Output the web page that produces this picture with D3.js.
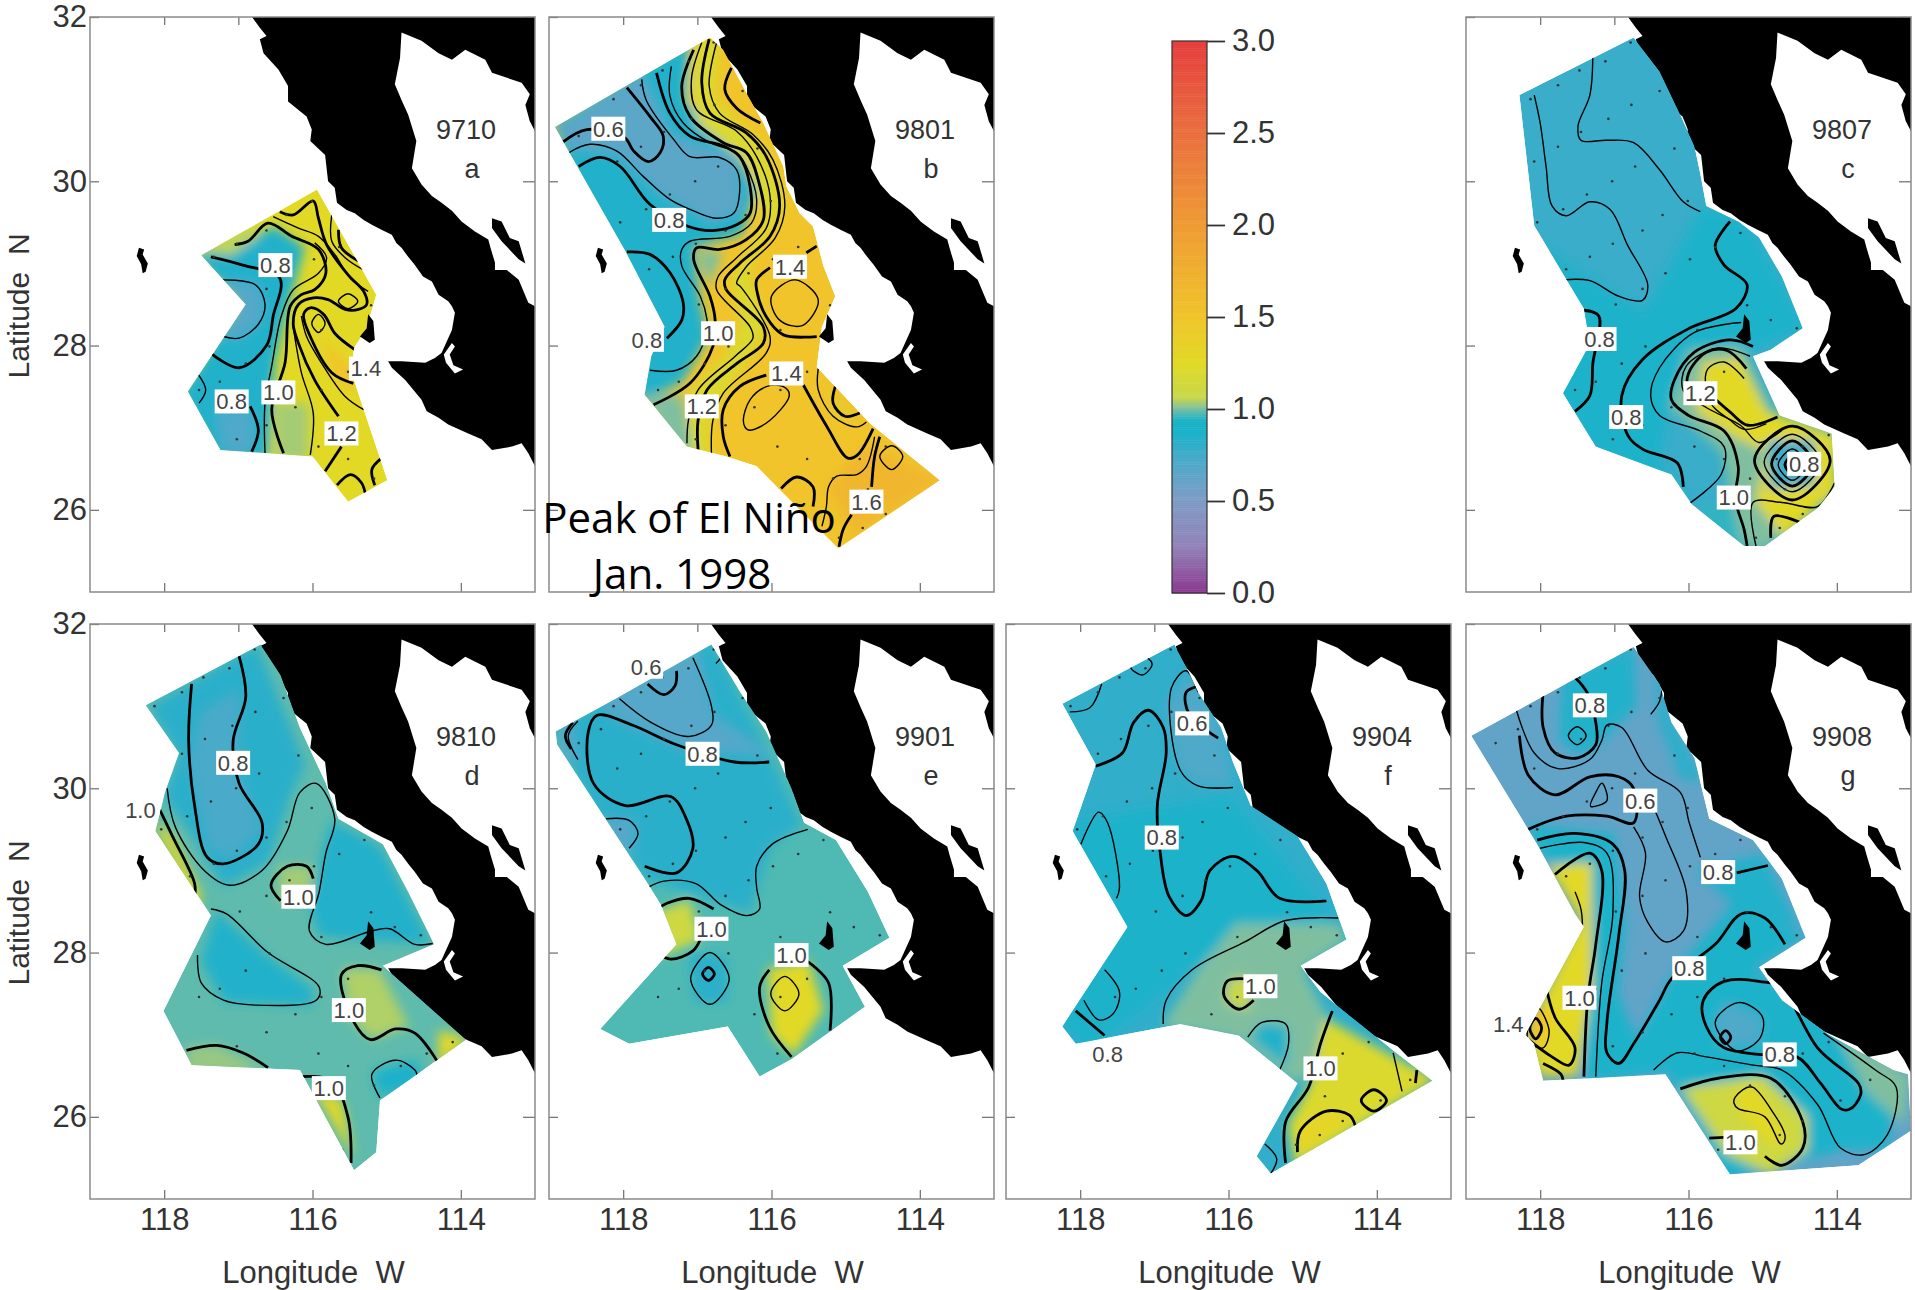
<!DOCTYPE html>
<html>
<head>
<meta charset="utf-8">
<script src="https://cdn.jsdelivr.net/npm/d3@7/dist/d3.min.js"></script>
<style>
	html, body { margin: 0; background: #fff; }
	text { font-family: "Liberation Sans", sans-serif; }
</style>
</head>
<body>
<script>

// Colour bar
// ==============================================

var barTicks = [0, 0.5, 1, 1.5, 2, 2.5, 3];
var colorValues = [0, 0.25, 0.5, 0.7, 0.88, 0.94, 1.0, 1.06, 1.25, 1.5, 2, 2.5, 3];
var colorNames = ["#8c3a90", "#9283b8", "#7f9cc6", "#4fa9c9", "#17b2ca", "#1fb4c6", "#7fbfa0", "#c8d84a", "#e2d925", "#f0c42a", "#ef9a34", "#ea6f3f", "#e63e3e"];

// Land, in degrees (lon W, lat N)
// ==============================================

var coast = [[116.84,32.1],[116.84,32.03],[116.71,31.87],[116.62,31.77],[116.71,31.73],[116.66,31.56],[116.46,31.36],[116.33,31.16],[116.33,30.97],[116.08,30.79],[116.01,30.63],[116.03,30.49],[115.83,30.32],[115.79,30.0],[115.70,29.92],[115.67,29.74],[115.54,29.65],[115.43,29.61],[115.31,29.53],[115.20,29.47],[115.07,29.41],[114.93,29.35],[114.87,29.25],[114.80,29.19],[114.71,29.08],[114.62,28.98],[114.51,28.84],[114.39,28.78],[114.3,28.62],[114.17,28.54],[114.12,28.48],[114.08,28.40],[114.12,28.19],[114.26,27.91],[114.35,27.85],[114.48,27.79],[114.80,27.81],[114.98,27.81],[114.93,27.73],[114.75,27.58],[114.53,27.34],[114.46,27.2],[114.3,27.12],[114.17,27.04],[113.90,26.93],[113.72,26.86],[113.58,26.73],[113.31,26.77],[113.18,26.81],[113.09,26.69],[113.0,26.53],[112.8,26.4],[112.8,28.48],[113.0,28.48],[113.09,28.52],[113.22,28.80],[113.38,28.92],[113.54,28.92],[113.54,29.01],[113.6,29.19],[113.63,29.29],[113.81,29.39],[113.99,29.51],[114.12,29.64],[114.26,29.74],[114.39,29.82],[114.53,29.96],[114.66,30.16],[114.60,30.49],[114.71,30.81],[114.80,30.99],[114.89,31.18],[114.82,31.50],[114.80,31.81],[114.53,31.71],[114.30,31.56],[114.12,31.48],[113.94,31.60],[113.67,31.48],[113.58,31.32],[113.18,31.20],[113.07,31.06],[113.13,30.93],[113.07,30.73],[113.0,30.61],[112.8,30.5],[112.8,32.1]];
var islandGuarda = [[113.58,29.55],[113.45,29.51],[113.34,29.31],[113.22,29.27],[113.13,29.0],[113.22,29.05],[113.45,29.27],[113.58,29.43]];
var islandCedros = [[115.25,28.38],[115.18,28.30],[115.16,28.07],[115.23,28.03],[115.36,28.11],[115.27,28.21]];
var islandGuadalupe = [[118.34,29.19],[118.27,29.17],[118.29,29.11],[118.22,29.0],[118.25,28.9],[118.29,28.88],[118.31,28.99],[118.37,29.09]];
var inletOjo = [[114.12,28.03],[114.08,27.99],[114.15,27.89],[114.1,27.76],[113.97,27.71],[114.08,27.66],[114.2,27.79],[114.23,27.89]];

// Station grid
// ==============================================

var stations = [[116.78,31.69],[117.12,31.46],[117.47,31.35],[117.76,31.17],[118.13,31.0],[116.39,31.1],[116.77,30.93],[117.08,30.76],[117.45,30.6],[117.76,30.42],[118.08,30.24],[116.19,30.4],[116.72,30.18],[117.03,30.0],[117.37,29.84],[117.69,29.66],[118.04,29.5],[116.01,29.76],[116.35,29.59],[116.62,29.4],[117.02,29.24],[117.33,29.08],[117.65,28.93],[115.3,29.37],[115.64,29.2],[115.98,29.05],[116.31,28.88],[116.62,28.69],[116.98,28.5],[114.89,28.31],[114.54,28.21],[115.21,28.49],[115.88,28.19],[116.58,27.99],[116.9,27.78],[117.25,27.56],[117.53,27.46],[115.52,27.68],[115.88,27.46],[116.23,27.25],[116.62,27.03],[117.02,26.86],[114.11,26.91],[114.46,26.77],[114.81,26.62],[115.17,26.38],[115.52,26.62],[115.92,26.77],[114.46,25.95],[114.77,25.78],[115.09,25.66],[113.55,26.45],[113.95,26.2],[114.7,26.25],[115.6,25.6],[118.6,30.55],[118.3,30.72]];

// Panel a, 9710
// ==============================================

var surveyA = [[115.94,29.90],[115.14,28.62],[115.27,28.21],[115.44,27.97],[115.48,27.68],[114.99,26.36],[115.52,26.10],[116.0,26.65],[117.24,26.73],[117.68,27.44],[116.90,28.50],[117.50,29.10],[116.64,29.54]];
var baseA = 1.25;
var patchesA = [
	[0.85, [[117.6,29.1],[116.5,29.45],[116.1,29.2],[116.35,28.4],[116.5,27.8],[116.6,26.6],[117.3,26.6],[117.8,27.4],[117.0,28.5]]],
	[0.68, [[117.24,28.8],[116.77,28.74],[116.64,28.5],[116.73,28.26],[116.99,28.09],[117.2,28.11],[117.0,28.5]]],
	[0.7, [[117.3,27.2],[116.8,27.2],[116.8,26.7],[117.2,26.7]]],
	[1.03, [[116.5,27.3],[116.05,27.3],[116.05,26.6],[116.5,26.6]]],
	[1.5, [[115.9,28.1],[115.4,27.7],[115.4,27.4],[115.7,27.6]]],
	[1.05, [[117.5,29.15],[116.9,29.45],[116.7,29.35],[117.1,29.1]]]
];
var contoursA = [
	[1.2, [[116.44,29.63],[116.26,29.59],[115.99,29.76],[115.92,29.55],[115.81,29.23],[115.52,28.86],[115.31,28.66],[115.27,28.50],[115.38,28.44],[115.56,28.44],[115.79,28.56],[115.99,28.58],[116.19,28.50],[116.26,28.27],[116.19,28.03],[115.97,27.58],[115.65,27.14]]],
	[1.4, [[115.65,29.41],[115.61,29.19],[115.38,29.03]]],
	[1.3, [[115.74,29.59],[115.74,29.27],[115.56,29.07],[115.31,28.92]]],
	[0.8, [[117.37,29.08],[116.94,28.98],[116.44,28.82],[116.53,28.36],[116.62,28.0],[116.99,27.73],[117.36,27.90]]],
	[0.7, [[117.24,28.80],[116.77,28.74],[116.64,28.50],[116.73,28.26],[116.99,28.09],[117.20,28.11]]],
	[0.7, [[117.55,27.66],[117.44,27.46],[117.53,27.30]]],
	[0.8, [[116.84,27.26],[116.73,26.97],[116.82,26.71]]],
	[0.9, [[116.64,26.69],[116.64,27.30],[116.55,27.75],[116.42,28.36],[116.26,28.68],[115.92,28.88],[115.81,29.07],[115.97,29.25]]],
	[1.0, [[116.39,26.69],[116.55,27.22],[116.37,27.79],[116.30,28.48],[116.15,28.62],[115.97,28.68],[115.82,28.88],[115.92,29.17],[116.28,29.33],[116.6,29.49],[116.87,29.27],[117.05,29.23]]],
	[1.1, [[116.03,26.67],[115.99,27.18],[116.15,27.67],[116.26,28.23]]],
	[1.4, [[115.43,27.95],[115.70,28.15],[115.85,28.38],[116.03,28.46],[116.12,28.38],[116.03,28.11],[115.74,27.67],[115.45,27.54]]],
	[1.3, [[115.31,27.22],[115.56,27.38],[115.88,27.79],[116.08,28.11],[116.15,28.36]]],
	[1.2, [[115.83,26.47],[115.61,26.77]]],
	[1.2, [[115.67,26.30],[115.49,26.43],[115.34,26.33],[115.28,26.16]]],
	[1.2, [[115.16,26.30],[115.2,26.49],[115.08,26.62]]],
	[1.1, [[116.53,29.57],[116.19,29.43],[115.92,29.33],[115.7,29.11],[115.49,28.82],[115.25,28.66]]]
];
var ringsA = [
	[1.5, [[115.92,28.38],[115.83,28.27],[115.92,28.16],[116.01,28.27]]],
	[1.1, [[115.52,28.63],[115.39,28.54],[115.52,28.45],[115.65,28.54]]]
];
var labelsA = [["0.8",116.50,28.98],["0.8",117.09,27.32],["1.0",116.46,27.43],["1.4",115.28,27.72],["1.2",115.61,26.93]];

// Panel b, 9801
// ==============================================

var surveyB = [[118.92,30.66],[116.83,31.75],[116.65,31.60],[116.34,31.08],[116.11,30.71],[115.84,30.18],[115.80,29.94],[115.62,29.61],[115.44,29.45],[115.30,28.97],[115.14,28.60],[115.32,28.23],[115.39,27.74],[114.67,27.05],[113.73,26.36],[115.10,25.53],[115.93,26.28],[116.20,26.53],[116.61,26.65],[117.14,26.77],[117.71,27.40],[117.62,27.87],[117.44,28.23],[117.97,29.15]];
var baseB = 1.5;
var patchesB = [
	[0.85, [[118.95,30.7],[117.1,31.75],[117.15,30.95],[116.55,30.5],[116.2,29.9],[116.4,29.35],[117.05,29.2],[116.95,28.5],[116.85,28.1],[117.2,27.55],[117.8,27.3],[118.4,29.3]]],
	[0.65, [[118.9,30.65],[117.75,31.3],[117.35,30.55],[116.5,30.3],[116.4,29.65],[116.8,29.5],[117.5,29.85],[118.1,30.35],[118.7,30.4]]],
	[1.2, [[117.0,31.75],[116.7,31.75],[116.75,31],[116.0,30.35],[115.8,29.7],[116.3,28.95],[116.05,28.2],[116.6,27.45],[116.85,27.0],[116.8,26.6],[117.1,26.7],[117.1,27.45],[116.6,27.9],[116.4,28.3],[116.55,28.8],[116.1,29.5],[116.3,30.2],[117.0,30.7],[117.1,31.2]]],
	[1.0, [[117.75,27.4],[117.2,27.4],[117.05,26.7],[117.3,26.7]]],
	[1.0, [[117.0,29.15],[116.65,29.15],[116.85,28.7]]],
	[1.15, [[115.2,27.5],[115.15,27.2],[114.8,27.05],[115.05,27.2]]],
	[1.65, [[114.7,26.8],[113.7,26.35],[114.9,25.7],[115.25,26.3]]]
];
var contoursB = [
	[0.6, [[118.81,30.48],[118.49,30.63],[117.98,30.53],[117.86,30.37],[117.66,30.24],[117.50,30.35],[117.46,30.55],[117.64,30.79],[117.95,31.14]]],
	[0.7, [[118.73,30.35],[118.45,30.45],[118.09,30.37],[117.73,30.06],[117.37,29.78],[117.05,29.64],[116.74,29.55],[116.51,29.61],[116.43,29.86],[116.47,30.14],[116.70,30.29],[117.10,30.30],[117.32,30.51],[117.69,30.99],[117.75,31.24]]],
	[0.8, [[118.60,30.18],[118.31,30.29],[118.04,30.18],[117.64,29.72],[117.12,29.45],[116.79,29.40],[116.47,29.47],[116.29,29.61],[116.29,29.94],[116.43,30.30],[116.65,30.43],[117.10,30.55],[117.37,30.83],[117.55,31.32]]],
	[0.8, [[117.95,29.14],[117.64,29.11],[117.37,28.89],[117.19,28.52],[117.21,28.31],[117.41,28.09]]],
	[0.9, [[117.35,31.40],[117.37,31.04],[117.19,30.71],[116.83,30.47],[116.47,30.35],[116.34,30.18],[116.2,29.78],[116.27,29.49],[116.56,29.33],[117.10,29.27],[117.21,29.17],[117.21,28.97],[116.96,28.6],[116.87,28.32],[116.87,28.19],[117.01,27.87],[117.28,27.70],[117.64,27.70]]],
	[1.0, [[117.05,31.60],[117.21,31.16],[117.10,30.79],[116.65,30.47],[116.34,30.35],[116.18,30.02],[116.11,29.53],[116.34,29.29],[116.70,29.17],[117.01,29.19],[117.05,29.05],[116.83,28.60],[116.76,28.31],[116.79,27.99],[117.10,27.54],[117.59,27.28]]],
	[1.1, [[116.94,31.69],[117.08,31.24],[117.01,30.87],[116.47,30.61],[116.20,30.30],[116.02,29.82],[116.07,29.43],[116.47,29.07],[116.72,28.84],[116.74,28.68],[116.29,28.23],[116.25,28.09],[116.49,27.87],[116.99,27.46],[117.12,27.09],[117.14,26.81]]],
	[1.2, [[116.84,31.73],[116.94,31.20],[116.83,30.83],[116.34,30.59],[116.07,30.30],[115.89,29.70],[116.02,29.33],[116.43,29.0],[116.63,28.80],[116.61,28.68],[116.11,28.23],[116.11,28.03],[116.47,27.78],[116.87,27.46],[116.99,27.09],[116.99,26.73]]],
	[1.3, [[116.74,31.69],[116.84,31.16],[116.70,30.83],[116.25,30.57],[115.98,30.26],[115.82,29.70],[115.95,29.31],[116.34,28.96],[116.47,28.76],[116.42,28.72],[116.02,28.11],[116.07,27.91],[116.65,27.42],[116.79,27.09],[116.81,26.69]]],
	[1.4, [[116.54,31.38],[116.63,31.12],[116.47,30.89],[116.15,30.71]]],
	[1.4, [[115.39,29.21],[115.53,29.13]]],
	[1.4, [[116.02,28.95],[116.20,28.80],[116.2,28.68],[116.07,28.35],[115.84,28.13],[115.39,28.11]]],
	[1.4, [[116.07,27.64],[116.43,27.50],[116.65,27.22],[116.65,26.89],[116.56,26.65]]],
	[1.4, [[115.57,27.52],[115.25,27.01],[114.97,26.63],[114.84,26.67],[114.63,26.99]]],
	[1.3, [[115.37,27.72],[115.37,27.46],[115.17,27.14],[114.85,27.01],[114.72,27.07]]],
	[1.2, [[115.14,27.50],[115.17,27.30],[115.01,27.14],[114.81,27.18]]],
	[1.5, [[114.61,26.89],[114.72,26.53],[114.85,26.43],[115.12,26.41],[115.23,26.28],[115.26,26.04],[115.32,25.80]]],
	[1.6, [[114.54,26.89],[114.61,26.65],[114.65,26.28]]],
	[1.6, [[115.87,26.26],[115.66,26.40],[115.44,26.28],[115.44,26.04]]],
	[1.6, [[114.92,25.94],[115.03,25.77],[115.09,25.55]]]
];
var ringsB = [
	[1.5, [[115.68,28.80],[115.37,28.56],[115.57,28.25],[115.89,28.31],[116.0,28.60]]],
	[1.5, [[115.84,27.50],[115.77,27.36],[116.02,27.09],[116.29,26.97],[116.38,27.09],[116.29,27.34],[116.07,27.50]]],
	[1.7, [[114.38,26.78],[114.23,26.65],[114.38,26.49],[114.54,26.65]]]
];
var labelsB = [["0.6",118.20,30.64],["0.8",117.38,29.53],["1.4",115.75,28.96],["0.8",117.68,28.07],["1.0",116.72,28.15],["1.4",115.80,27.66],["1.2",116.94,27.26],["1.6",114.72,26.10]];

// Panel c, 9807
// ==============================================

var surveyC = [[116.74,31.75],[116.39,31.34],[116.11,30.81],[115.92,30.43],[115.84,30.09],[115.76,29.70],[115.33,29.51],[115.05,29.32],[114.74,28.84],[114.46,28.21],[114.89,27.95],[115.13,27.87],[114.77,27.15],[114.07,26.93],[114.03,26.28],[114.26,26.02],[114.97,25.56],[115.25,25.56],[115.96,26.07],[116.23,26.43],[117.25,26.77],[117.69,27.42],[117.33,28.02],[117.41,28.45],[118.08,29.46],[118.28,31.05]];
var baseC = 0.77;
var patchesC = [
	[0.87, [[118,29.2],[116.6,28.4],[115.8,29.7],[115.2,29.5],[114.4,28.2],[115.3,27.9],[116.1,27.9],[116.4,26.6],[116,26.1],[117.3,26.7],[117.9,27.4]]],
	[1.0, [[116.0,27.95],[115.3,28.0],[114.8,27.1],[114,26.95],[114,26.2],[115,25.5],[115.3,25.6],[115.55,26.7],[116.25,27.25]]],
	[1.25, [[115.8,27.8],[115.3,27.85],[114.95,27.2],[114.4,27.05],[114.0,26.9],[114.0,26.25],[114.7,25.65],[115.1,26.1],[114.95,26.7],[115.4,26.9],[115.9,27.2]]],
	[0.75, [[114.95,26.85],[114.3,26.85],[114.3,26.3],[114.9,26.25]]],
	[0.95, [[115.9,26.05],[115.4,26.0],[115.3,25.5]]]
];
var contoursC = [
	[0.7, [[118.08,31.05],[118.0,30.71],[117.92,30.18],[117.84,29.70],[117.65,29.58],[117.33,29.75],[117.06,29.66],[116.82,29.22],[116.55,28.74],[116.62,28.55],[116.94,28.60],[117.33,28.79],[117.69,28.80]]],
	[0.7, [[117.29,31.53],[117.33,31.05],[117.49,30.67],[117.45,30.50],[117.10,30.50],[116.74,30.47],[116.39,30.14],[116.07,29.75],[115.84,29.63]]],
	[0.8, [[115.44,29.51],[115.64,29.22],[115.52,28.98],[115.21,28.74],[115.36,28.45],[115.99,28.21],[116.62,27.83],[116.90,27.39],[116.82,26.91],[116.62,26.74],[116.15,26.57],[116.07,26.28]]],
	[0.8, [[117.41,28.43],[117.21,28.36],[117.29,27.78],[117.33,27.39],[117.53,27.20]]],
	[0.9, [[115.29,28.28],[115.92,28.16],[116.39,27.73],[116.51,27.39],[116.39,27.15],[115.84,26.96],[115.52,26.77],[115.56,26.43],[116.0,26.07]]],
	[1.0, [[115.13,27.99],[115.44,28.07],[115.92,27.92],[116.19,27.58],[116.23,27.34],[116.0,27.15],[115.52,26.96],[115.33,26.53],[115.37,26.14],[115.25,25.76],[115.21,25.56]]],
	[1.1, [[115.17,27.87],[115.6,27.97],[116.03,27.75],[116.07,27.45],[115.75,27.24],[115.3,27.03],[115.05,26.82],[114.74,26.97]]],
	[1.2, [[115.22,27.72],[115.48,27.94],[115.76,27.92],[116.0,27.66],[116.0,27.5],[115.75,27.42],[115.45,27.2],[115.2,27.03],[114.8,27.13]]],
	[1.3, [[115.25,27.6],[115.52,27.8],[115.75,27.7],[115.7,27.3],[115.45,27.1],[115.25,26.98],[114.95,27.05]]],
	[1.2, [[114.89,25.66],[114.85,25.92],[114.5,25.85]]],
	[1.1, [[115.09,25.56],[115.13,26.09],[114.74,26.09],[114.26,26.04],[114.03,26.33]]]
];
var ringsC = [
	[1.0, [[114.60,27.02],[114.09,26.6],[114.60,26.12],[115.11,26.6]]],
	[0.9, [[114.60,26.92],[114.22,26.58],[114.60,26.22],[114.98,26.58]]],
	[0.8, [[114.60,26.84],[114.32,26.56],[114.60,26.29],[114.88,26.56]]],
	[0.7, [[114.60,26.74],[114.41,26.55],[114.60,26.36],[114.79,26.55]]],
	[0.6, [[114.60,26.66],[114.5,26.55],[114.60,26.44],[114.7,26.55]]]
];
var labelsC = [["0.8",117.2,28.08],["0.8",116.84,27.13],["1.2",115.84,27.42],["1.0",115.39,26.15],["0.8",114.44,26.56]];

// Panel d, 9810
// ==============================================

var surveyD = [[118.25,31.01],[117.80,30.43],[117.99,29.95],[118.12,29.48],[117.37,28.45],[118.01,27.29],[117.63,26.63],[116.17,26.57],[115.44,25.35],[115.14,25.57],[115.09,26.20],[113.93,26.94],[115.05,27.84],[114.36,28.10],[114.71,28.74],[115.05,29.32],[115.65,29.63],[115.82,30.06],[116.17,30.74],[116.43,31.38],[116.70,31.75]];
var baseD = 0.98;
var patchesD = [
	[0.82, [[118.2,31],[116.75,31.75],[116.1,30.3],[116.3,29.9],[116.6,29.1],[117.2,28.8],[117.6,29.4],[118,29.9],[117.8,30.4]]],
	[0.72, [[117.5,30.9],[117,31.2],[117,30.2],[116.7,29.5],[117.1,29.15],[117.4,29.3],[117.65,30.3]]],
	[0.84, [[115.75,29.6],[115.1,29.3],[114.4,28.1],[115.9,28.2],[116.05,28.6]]],
	[1.03, [[116.45,29.05],[116,29.05],[116,28.7],[116.45,28.6]]],
	[0.85, [[117.3,28.5],[116.6,27.95],[116,27.55],[116,27.35],[117.2,27.4],[117.5,27.9]]],
	[1.25, [[118.15,29.6],[117.9,29.45],[117.5,28.7],[117.55,28.5]]],
	[1.04, [[115.6,27.8],[115.1,27.8],[114.7,27.1],[115.2,26.95],[115.5,27.2]]],
	[1.25, [[114.3,27.05],[113.9,26.95],[114.3,26.6]]],
	[0.86, [[115.1,26.25],[115.2,26.55],[114.6,26.7],[114.5,26.4]]],
	[1.02, [[117.7,26.85],[117.3,26.88],[116.6,26.55],[117.7,26.5]]],
	[1.25, [[116,26.35],[115.6,26.2],[115.45,25.5]]]
];
var contoursD = [
	[0.8, [[116.99,31.61],[116.90,31.11],[117.07,30.58],[116.99,30.06],[116.68,29.58],[116.73,29.32],[117.20,29.08],[117.42,29.16],[117.59,29.79],[117.67,30.58],[117.63,31.27]]],
	[0.9, [[117.96,30.0],[117.85,29.53],[117.46,29.0],[117.12,28.82],[116.68,29.0],[116.34,29.48],[116.17,29.95],[115.95,30.06],[115.70,29.63],[115.82,29.21],[115.91,28.74],[116.04,28.26],[115.82,28.10],[115.22,28.26],[114.96,28.29],[114.62,28.10],[114.38,28.11]]],
	[1.0, [[118.06,29.74],[117.89,29.42],[117.59,28.84],[117.59,28.66]]],
	[1.0, [[116.43,28.63],[116.56,28.82],[116.34,29.05],[116.08,29.05],[115.99,28.90]]],
	[0.9, [[117.37,28.53],[117.16,28.47],[116.6,28.0],[115.91,27.58],[115.95,27.42],[116.77,27.36],[117.20,27.42],[117.5,27.63],[117.55,27.97]]],
	[1.0, [[115.07,27.79],[115.39,27.84],[115.61,27.73],[115.44,27.15],[115.22,26.94],[114.88,27.07],[114.62,27.02],[114.32,26.68]]],
	[1.0, [[117.70,26.81],[117.29,26.87],[116.94,26.78],[116.6,26.60]]],
	[0.9, [[115.09,26.23],[115.2,26.52],[114.88,26.69],[114.62,26.57],[114.58,26.47]]],
	[1.0, [[116.17,26.49],[115.74,26.44],[115.52,25.99],[115.48,25.44]]]
];
var ringsD = [];
var labelsD = [["0.8",117.07,30.31],["1.0",118.32,29.73],["1.0",116.19,28.68],["1.0",115.51,27.30],["1.0",115.78,26.35]];

// Panel e, 9901
// ==============================================

var surveyE = [[116.81,31.75],[116.42,31.17],[116.07,30.69],[115.73,30.0],[115.56,29.58],[115.13,29.37],[114.70,28.74],[114.41,28.18],[115.04,27.84],[114.74,27.34],[115.73,26.70],[116.16,26.49],[116.59,27.10],[117.92,26.89],[118.31,27.07],[117.28,28.10],[117.49,28.58],[117.71,28.90],[118.89,30.53],[118.91,30.69],[118.10,31.09]];
var baseE = 0.97;
var patchesE = [
	[0.82, [[118.95,30.7],[116.8,31.8],[116,30.35],[115.6,29.55],[116,29.3],[116.3,28.5],[117.7,28.9],[118.3,29.6]]],
	[0.68, [[118.3,31.1],[117,31.7],[116.8,30.9],[116,30.4],[117.2,30.5],[118.2,30.9]]],
	[0.68, [[118.3,29.65],[117.85,29.6],[117.85,29.25],[118.1,29.2]]],
	[0.68, [[118.9,30.8],[118.7,30.8],[118.6,30.3],[118.8,30.4]]],
	[1.1, [[117.55,28.5],[117.1,28.65],[116.95,28.15],[117.5,27.95]]],
	[0.82, [[117.1,28],[116.6,27.95],[116.6,27.4],[117.05,27.4]]],
	[1.25, [[116.05,27.8],[115.5,27.9],[115.3,27.3],[115.7,26.75],[116,27]]]
];
var contoursE = [
	[0.6, [[117.67,31.27],[117.45,31.14],[117.30,31.25],[117.28,31.43]]],
	[0.7, [[117.06,31.59],[116.81,31.0],[116.81,30.77],[117.11,30.63],[117.62,30.8],[118.05,31.09]]],
	[0.7, [[116.78,31.74],[116.68,31.61],[116.75,31.52]]],
	[0.8, [[116.03,30.32],[116.5,30.32],[117.28,30.53],[117.88,30.77],[118.35,30.89],[118.47,30.69],[118.4,30.06],[117.97,29.79],[117.36,29.9],[117.15,29.63],[117.06,29.27],[117.28,28.97],[117.71,29.05]]],
	[0.7, [[118.61,30.82],[118.74,30.64],[118.61,30.35]]],
	[0.6, [[118.68,30.80],[118.78,30.64],[118.70,30.48]]],
	[0.7, [[118.23,29.63],[117.92,29.61],[117.8,29.45],[117.92,29.27]]],
	[0.9, [[115.51,29.5],[115.99,29.32],[116.2,29.05],[116.2,28.79],[116.16,28.53],[116.33,28.45],[116.68,28.58],[117.02,28.84],[117.45,28.87],[117.67,28.79]]],
	[1.0, [[116.78,28.53],[117.11,28.66],[117.41,28.6],[117.54,28.53]]],
	[1.0, [[117.54,28.0],[117.36,27.92],[117.06,28.02],[116.95,28.18]]],
	[1.0, [[116.03,27.79],[116.16,27.58],[116.03,27.10],[115.73,26.73]]],
	[1.0, [[115.51,27.89],[115.23,27.63],[115.21,27.05]]]
];
var ringsE = [
	[0.9, [[116.83,28.0],[116.57,27.68],[116.83,27.37],[117.09,27.68]]],
	[0.8, [[116.85,27.82],[116.77,27.74],[116.85,27.66],[116.93,27.74]]],
	[1.1, [[115.82,27.71],[115.63,27.50],[115.82,27.29],[116.01,27.50]]]
];
var labelsE = [["0.6",117.69,31.48],["0.8",116.93,30.42],["1.0",116.81,28.29],["1.0",115.73,27.97]];

// Panel f, 9904
// ==============================================

var surveyF = [[116.73,31.75],[116.57,31.48],[116.41,31.17],[116.10,30.74],[115.94,30.32],[115.70,29.79],[115.07,29.42],[114.68,28.84],[114.41,28.16],[115.03,27.84],[114.76,27.52],[113.74,26.78],[113.25,26.44],[115.43,25.31],[115.62,25.52],[115.07,26.41],[115.86,26.99],[116.65,27.13],[118.06,26.89],[118.24,27.10],[117.36,28.31],[118.10,29.48],[117.79,30.29],[118.24,31.03]];
var baseF = 0.8;
var patchesF = [
	[0.7, [[116.55,31.4],[116.1,30.75],[115.95,30.05],[116.45,30.05],[116.7,30.3],[116.85,31]]],
	[0.87, [[118.1,29.6],[116,29.9],[114.6,28.4],[116.5,27.8],[117.9,26.8],[118.3,27.2]]],
	[1.0, [[115.9,28.35],[114.5,28.35],[114.4,28.15],[115,27.8],[114.6,27.1],[114.8,26.6],[115.1,26.4],[115.9,26.95],[116.9,27.1],[116.4,27.8]]],
	[1.1, [[115.95,27.7],[115.65,27.65],[115.75,27.3],[116.05,27.4]]],
	[1.2, [[114.7,27.2],[113.8,26.75],[113.2,26.45],[115.1,25.4],[115.2,25.9],[114.9,26.4]]],
	[0.85, [[115.7,26.95],[115.55,27.15],[115.2,27.1],[115.2,26.6]]],
	[1.3, [[115.05,25.55],[115.05,25.85],[114.65,26.1],[114.35,25.95]]],
	[1.3, [[113.5,26.6],[113.2,26.45],[113.5,26.3]]]
];
var contoursF = [
	[0.7, [[118.14,30.93],[117.87,30.98],[117.71,31.27]]],
	[0.8, [[117.79,30.27],[117.43,30.43],[117.28,30.8],[117.08,30.95],[116.88,30.74],[116.84,30.43],[116.96,29.79],[116.92,29.21],[116.8,28.68],[116.57,28.45],[116.37,28.63],[116.25,29.0],[115.94,29.17],[115.62,29.0],[115.31,28.66],[114.68,28.63]]],
	[0.7, [[115.94,30.01],[116.41,30.03],[116.65,30.22],[116.77,31.22],[116.57,31.43],[116.41,31.17]]],
	[0.6, [[116.37,31.25],[116.57,31.17],[116.53,30.9],[116.14,30.61]]],
	[0.9, [[117.99,29.32],[117.75,29.71],[117.63,29.58],[117.47,28.79],[117.51,28.66]]],
	[0.9, [[114.52,28.42],[115.23,28.39],[115.78,28.13],[116.49,27.79],[116.84,27.42],[116.88,27.13]]],
	[0.9, [[117.67,27.79],[117.47,27.52],[117.55,27.26],[117.75,27.18],[117.95,27.42]]],
	[0.8, [[118.06,27.29],[117.67,26.99]]],
	[1.0, [[115.78,27.68],[116.02,27.65],[116.06,27.47],[115.86,27.31],[115.66,27.42]]],
	[0.9, [[115.74,26.97],[115.55,27.15],[115.23,27.13],[115.19,26.89],[115.31,26.57]]],
	[1.0, [[114.6,27.29],[114.76,26.89],[114.92,26.36],[115.23,25.94],[115.23,25.44]]],
	[0.9, [[115.51,25.67],[115.35,25.49],[115.43,25.31]]],
	[1.2, [[115.07,25.57],[115.03,25.83],[114.68,26.07],[114.37,26.02],[114.29,25.89]]],
	[1.1, [[113.78,26.78],[113.66,26.31]]],
	[1.2, [[113.46,26.57],[113.48,26.41]]]
];
var ringsF = [
	[0.7, [[117.16,31.61],[117.03,31.51],[117.16,31.38],[117.32,31.48]]],
	[1.2, [[114.04,26.33],[113.87,26.20],[114.04,26.07],[114.21,26.20]]]
];
var labelsF = [["0.6",116.49,30.79],["0.8",116.9,29.40],["1.0",115.57,27.59],["0.8",117.63,26.77],["1.0",114.76,26.59]];

// Panel g, 9908
// ==============================================

var surveyG = [[116.74,31.72],[116.39,31.27],[116.23,30.8],[115.92,30.37],[115.72,29.63],[115.13,29.37],[114.74,28.9],[114.42,28.18],[115.05,27.82],[114.74,27.42],[114.11,27.0],[113.24,26.57],[113.04,26.52],[113.0,25.83],[113.71,25.41],[115.44,25.3],[116.31,26.52],[117.96,26.44],[118.08,26.89],[118.2,27.0],[117.41,28.31],[117.53,28.47],[118.04,29.32],[118.93,30.64]];
var baseG = 0.62;
var patchesG = [
	[0.85, [[117.7,31.35],[116.74,31.75],[116.7,31.0],[117.25,30.5],[117.5,30.4],[117.75,30.6]]],
	[0.82, [[116.5,31.7],[116.2,30.8],[115.8,30.1],[116.1,30.1],[116.4,30.8]]],
	[0.85, [[115.9,29.0],[115,29.2],[114.5,28.3],[115.3,28.5]]],
	[0.87, [[118.2,29.55],[117.0,29.45],[116.85,28.3],[116.95,27.5],[116.7,26.95],[116.2,27.75],[115.4,28.6],[114.4,28.2],[115.1,27.8],[114.1,27.1],[113.2,26.5],[113.3,25.6],[113.9,25.6],[115.6,25.2],[116.1,26.2],[116.3,26.55],[117.4,26.4],[117.3,28.9],[117.9,29.1]]],
	[0.7, [[115.5,27.4],[115.0,27.2],[115.05,26.9],[115.55,26.85],[115.65,27.15]]],
	[1.1, [[116.1,26.35],[115.0,26.5],[114.4,26],[114.4,25.6],[114.9,25.3],[115.5,25.55]]],
	[1.0, [[114,27],[113,26.5],[113.1,25.9],[113.6,26.3]]],
	[1.25, [[115.4,26.3],[115.1,26.4],[114.7,25.8],[114.8,25.6],[115.3,26]]],
	[1.25, [[117.9,29.05],[117.3,29.1],[117.3,27.6],[117.5,26.5],[118,26.5],[118.2,27],[117.45,28.4]]],
	[1.5, [[118.15,27.3],[117.85,27.3],[117.95,26.85],[118.15,26.9]]]
];
var contoursG = [
	[0.8, [[117.53,31.35],[117.37,31.17],[117.25,30.8],[117.25,30.53],[117.49,30.37],[117.8,30.43],[117.96,30.74],[117.96,31.17]]],
	[0.7, [[118.32,30.95],[118.08,30.43],[117.76,30.24],[117.33,30.35],[117.17,30.58],[117.1,30.77],[116.9,30.74],[116.55,30.22],[116.11,29.95],[115.99,29.58],[115.84,29.16]]],
	[0.6, [[118.28,30.64],[118.16,30.16],[117.8,29.92],[117.33,30.14],[116.94,30.14],[116.74,30.0],[116.74,29.58],[117.1,29.66],[117.65,29.66],[118.16,29.5]]],
	[0.7, [[116.35,31.27],[116.39,31.06],[116.51,30.9]]],
	[0.7, [[116.47,29.77],[116.31,29.42],[116.03,28.74],[116.07,28.26],[116.31,28.13],[116.55,28.37],[116.66,28.68],[116.58,29.21],[116.74,29.53]]],
	[0.8, [[114.93,29.06],[115.35,28.97]]],
	[0.8, [[118.04,29.37],[117.53,29.45],[117.02,29.32],[116.86,29.0],[116.94,28.21],[117.1,27.15],[117.1,26.78],[116.94,26.65],[116.74,26.89],[116.39,27.42],[116.23,27.68],[115.64,28.1],[115.29,28.47],[114.97,28.42],[114.7,28.1]]],
	[0.9, [[118.0,29.27],[117.41,29.34],[117.1,29.21],[117.02,28.47],[117.17,27.63],[117.25,26.49]]],
	[1.0, [[117.8,28.95],[117.33,29.21],[117.17,29],[117.25,28.1],[117.33,27.63],[117.37,27.31],[117.41,26.49]]],
	[1.1, [[117.53,28.74],[117.45,28.53],[117.43,28.34]]],
	[1.2, [[117.92,27.58],[117.8,27.21],[117.53,26.84],[117.61,26.63],[117.84,26.73],[118.16,26.94]]],
	[1.2, [[117.96,26.65],[117.72,26.52],[117.69,26.44]]],
	[0.9, [[116.47,26.57],[116.15,26.78],[115.76,26.73],[115.13,26.63],[114.74,26.57],[114.26,26.15],[113.95,25.62],[113.63,25.54],[113.32,25.78],[113.2,26.36],[113.48,26.57],[114.18,27.02]]],
	[1.0, [[116.11,26.34],[115.6,26.47],[114.89,26.47],[114.46,25.94],[114.46,25.62],[114.74,25.41],[114.97,25.52]]],
	[1.0, [[115.72,25.74],[115.52,25.75]]]
];
var ringsG = [
	[0.9, [[117.16,30.06],[117.1,29.85],[117.32,29.78],[117.25,29.95]]],
	[0.9, [[117.5,30.75],[117.38,30.64],[117.5,30.53],[117.62,30.64]]],
	[0.8, [[115.05,27.65],[114.7,27.52],[114.26,26.84],[113.71,26.41],[113.75,26.15],[113.95,26.1],[114.22,26.41],[114.54,26.73],[115.05,26.76],[115.52,26.84],[115.76,27.1],[115.8,27.42],[115.52,27.65]]],
	[0.7, [[115.33,27.39],[115.01,27.23],[115.05,26.94],[115.37,26.81],[115.64,27.15]]],
	[0.6, [[115.5,27.05],[115.43,26.97],[115.5,26.89],[115.57,26.97]]],
	[1.3, [[118.0,27.31],[117.88,27.05],[117.96,26.84],[118.16,26.92],[118.16,27.1],[118.08,27.26]]],
	[1.4, [[118.06,27.2],[117.98,27.08],[118.06,26.95],[118.14,27.08]]],
	[1.1, [[115.13,26.36],[114.85,26.04],[114.7,25.78],[114.77,25.68],[114.97,26.0],[115.33,26.1],[115.37,26.24]]]
];
var labelsG = [["0.8",117.33,31.01],["0.6",116.65,29.85],["0.8",115.6,28.98],["0.8",115.99,27.81],["1.0",117.47,27.45],["1.4",118.43,27.13],["0.8",114.77,26.76],["1.0",115.3,25.69]];

var months = ["9710", "9801", "9807", "9810", "9901", "9904", "9908"];
var letters = ["a", "b", "c", "d", "e", "f", "g"];
var surveys = [surveyA, surveyB, surveyC, surveyD, surveyE, surveyF, surveyG];
var bases = [baseA, baseB, baseC, baseD, baseE, baseF, baseG];
var patches = [patchesA, patchesB, patchesC, patchesD, patchesE, patchesF, patchesG];
var contours = [contoursA, contoursB, contoursC, contoursD, contoursE, contoursF, contoursG];
var rings = [ringsA, ringsB, ringsC, ringsD, ringsE, ringsF, ringsG];
var labels = [labelsA, labelsB, labelsC, labelsD, labelsE, labelsF, labelsG];

var lonTicks = [118, 116, 114];
var lonTicksTop = [118, 117, 116, 115, 114];
var latTicks = [32, 30, 28, 26];

// Layout
// ==============================================

var panelW = 445, panelH = 575;
var panelX = [90, 549, 1466, 90, 549, 1006, 1466];
var panelY = [17, 17, 17, 624, 624, 624, 624];

var svg = d3.select("body").append("svg")
	.attr("width", 1915)
	.attr("height", 1290)
	.style("display", "block");

var defs = svg.append("defs");

defs.append("filter")
	.attr("id", "soft")
	.attr("x", "-30%").attr("y", "-30%")
	.attr("width", "160%").attr("height", "160%")
	.append("feGaussianBlur")
		.attr("stdDeviation", 5.5);

var color = d3.scaleLinear()
	.domain(colorValues)
	.range(colorNames)
	.clamp(true);

// Panels
// ==============================================

months.forEach(function(month, i){

	var x = d3.scaleLinear().domain([119, 113]).range([0, panelW]),
		y = d3.scaleLinear().domain([32, 25]).range([0, panelH]);

	var g = svg.append("g")
		.attr("transform", "translate(" + panelX[i] + "," + panelY[i] + ")");

	var shape = d3.line().x(function(d){ return x(d[0]); }).y(function(d){ return y(d[1]); });
	var curve = d3.line().x(function(d){ return x(d[0]); }).y(function(d){ return y(d[1]); }).curve(d3.curveCatmullRom.alpha(0.5));
	var ring = d3.line().x(function(d){ return x(d[0]); }).y(function(d){ return y(d[1]); }).curve(d3.curveCatmullRomClosed.alpha(0));

	defs.append("clipPath").attr("id", "frame" + i)
		.append("rect").attr("width", panelW).attr("height", panelH);
	defs.append("clipPath").attr("id", "survey" + i)
		.append("path").attr("d", shape(surveys[i]) + "Z");

	// ticks sit under the land, the black hides them
	var tickStyle = function(sel){
		sel.select(".domain").remove();
		sel.selectAll("line").attr("stroke", "#777").attr("stroke-width", 1.3);
		sel.selectAll("text").attr("fill", "#333").style("font-size", "31px").style("font-family", "Liberation Sans");
	};

	g.append("g").call(d3.axisTop(x).tickValues(lonTicksTop).tickSize(-8).tickFormat("")).call(tickStyle);
	g.append("g").attr("transform", "translate(" + panelW + ",0)")
		.call(d3.axisRight(y).tickValues(latTicks).tickSize(-12).tickFormat("")).call(tickStyle);

	var bottom = d3.axisBottom(x).tickValues(lonTicks).tickSize(-9).tickPadding(9).tickFormat(d3.format("d"));
	if(i < 3) bottom.tickFormat("");
	g.append("g").attr("transform", "translate(0," + panelH + ")").call(bottom).call(tickStyle);

	var left = d3.axisLeft(y).tickValues(latTicks).tickSize(-9).tickPadding(3).tickFormat(d3.format("d"));
	if(i !== 0 && i !== 3) left.tickFormat("");
	g.append("g").call(left).call(tickStyle);

	// Land
	var land = g.append("g").attr("clip-path", "url(#frame" + i + ")");

	land.append("path").attr("d", shape(coast) + "Z").attr("fill", "#000");
	land.append("path").attr("d", shape(inletOjo) + "Z").attr("fill", "#fff");
	land.append("path").attr("d", shape(islandGuarda) + "Z").attr("fill", "#000");
	land.append("path").attr("d", shape(islandGuadalupe) + "Z").attr("fill", "#000");

	// Survey area, soft fill then contours
	var area = g.append("g").attr("clip-path", "url(#survey" + i + ")");

	area.append("path").attr("d", shape(surveys[i]) + "Z").attr("fill", color(bases[i]));

	area.append("g").attr("filter", "url(#soft)")
		.selectAll("path")
		.data(patches[i])
		.enter().append("path")
			.attr("d", function(d){ return shape(d[1]) + "Z"; })
			.attr("fill", function(d){ return color(d[0]); });

	var weight = function(d){ return Math.round(d[0] * 10) % 2 === 0 ? 2.8 : 1.4; };

	area.selectAll("path.open")
		.data(contours[i])
		.enter().append("path")
			.attr("class", "open")
			.attr("d", function(d){ return curve(d[1]); })
			.attr("fill", "none").attr("stroke", "#000")
			.attr("stroke-width", weight);

	area.selectAll("path.closed")
		.data(rings[i])
		.enter().append("path")
			.attr("class", "closed")
			.attr("d", function(d){ return ring(d[1]); })
			.attr("fill", "none").attr("stroke", "#000")
			.attr("stroke-width", weight);

	g.append("path").attr("d", shape(islandCedros) + "Z").attr("fill", "#000");

	area.selectAll("circle")
		.data(stations)
		.enter().append("circle")
			.attr("cx", function(d){ return x(d[0]); })
			.attr("cy", function(d){ return y(d[1]); })
			.attr("r", 1.3)
			.attr("fill", "#333");

	// Contour labels
	var tag = g.selectAll("g.tag")
		.data(labels[i])
		.enter().append("g")
			.attr("class", "tag")
			.attr("transform", function(d){ return "translate(" + x(d[1]) + "," + y(d[2]) + ")"; });

	tag.append("rect")
		.attr("x", -17).attr("y", -12)
		.attr("width", 34).attr("height", 24)
		.attr("fill", "#fff");

	tag.append("text")
		.attr("text-anchor", "middle")
		.attr("dy", "0.36em")
		.attr("fill", "#444")
		.style("font-size", "22px")
		.text(function(d){ return d[0]; });

	// Cruise name and letter
	g.append("text")
		.attr("x", x(113.93)).attr("y", y(30.63))
		.attr("dy", "0.36em")
		.attr("text-anchor", "middle")
		.attr("fill", "#333")
		.style("font-size", "27px")
		.text(month);

	g.append("text")
		.attr("x", x(113.85)).attr("y", y(30.16))
		.attr("dy", "0.36em")
		.attr("text-anchor", "middle")
		.attr("fill", "#333")
		.style("font-size", "27px")
		.text(letters[i]);

	// Frame
	g.append("rect")
		.attr("width", panelW).attr("height", panelH)
		.attr("fill", "none")
		.attr("stroke", "#8a8a8a")
		.attr("stroke-width", 1.5);

	if(i > 2){
		g.append("text")
			.attr("x", panelW / 2 + 1).attr("y", 1272 - panelY[i])
			.attr("dy", "0.36em")
			.attr("text-anchor", "middle")
			.attr("fill", "#333")
			.style("font-size", "31px")
			.style("white-space", "pre")
			.text("Longitude  W");
	}

	if(i === 0 || i === 3){
		g.append("text")
			.attr("transform", "translate(-72,289) rotate(-90)")
			.attr("dy", "0.36em")
			.attr("text-anchor", "middle")
			.attr("fill", "#333")
			.style("font-size", "30px")
			.style("white-space", "pre")
			.text("Latitude  N");
	}
});

// Colour bar
// ==============================================

var barY = d3.scaleLinear().domain([0, 3]).range([593, 41]);

var bar = svg.append("g").attr("transform", "translate(1172,0)");

bar.selectAll("rect")
	.data(d3.range(0, 300))
	.enter().append("rect")
		.attr("x", 0).attr("width", 35)
		.attr("y", function(d){ return barY((d + 1) / 100); })
		.attr("height", function(d){ return barY(d / 100) - barY((d + 1) / 100) + 0.5; })
		.attr("fill", function(d){ return color(d / 100); });

bar.append("rect")
	.attr("y", barY(3)).attr("width", 35)
	.attr("height", barY(0) - barY(3))
	.attr("fill", "none").attr("stroke", "#333").attr("stroke-width", 1.2);

bar.append("g")
	.attr("transform", "translate(35,0)")
	.call(d3.axisRight(barY).tickValues(barTicks).tickSize(18).tickPadding(7).tickFormat(d3.format(".1f")))
	.call(function(sel){
		sel.select(".domain").remove();
		sel.selectAll("line").attr("stroke", "#333").attr("stroke-width", 1.8);
		sel.selectAll("text").attr("fill", "#333").style("font-size", "31px").style("font-family", "Liberation Sans");
	});

// Annotation
// ==============================================

svg.append("text")
	.attr("x", 689).attr("y", 518)
	.attr("dy", "0.36em")
	.attr("text-anchor", "middle")
	.style("font-family", "Open Sans")
	.style("font-size", "42px")
	.attr("fill", "#000")
	.text("Peak of El Niño");

svg.append("text")
	.attr("x", 682).attr("y", 574)
	.attr("dy", "0.36em")
	.attr("text-anchor", "middle")
	.style("font-family", "Open Sans")
	.style("font-size", "42px")
	.attr("fill", "#000")
	.text("Jan. 1998");

</script>
</body>
</html>
